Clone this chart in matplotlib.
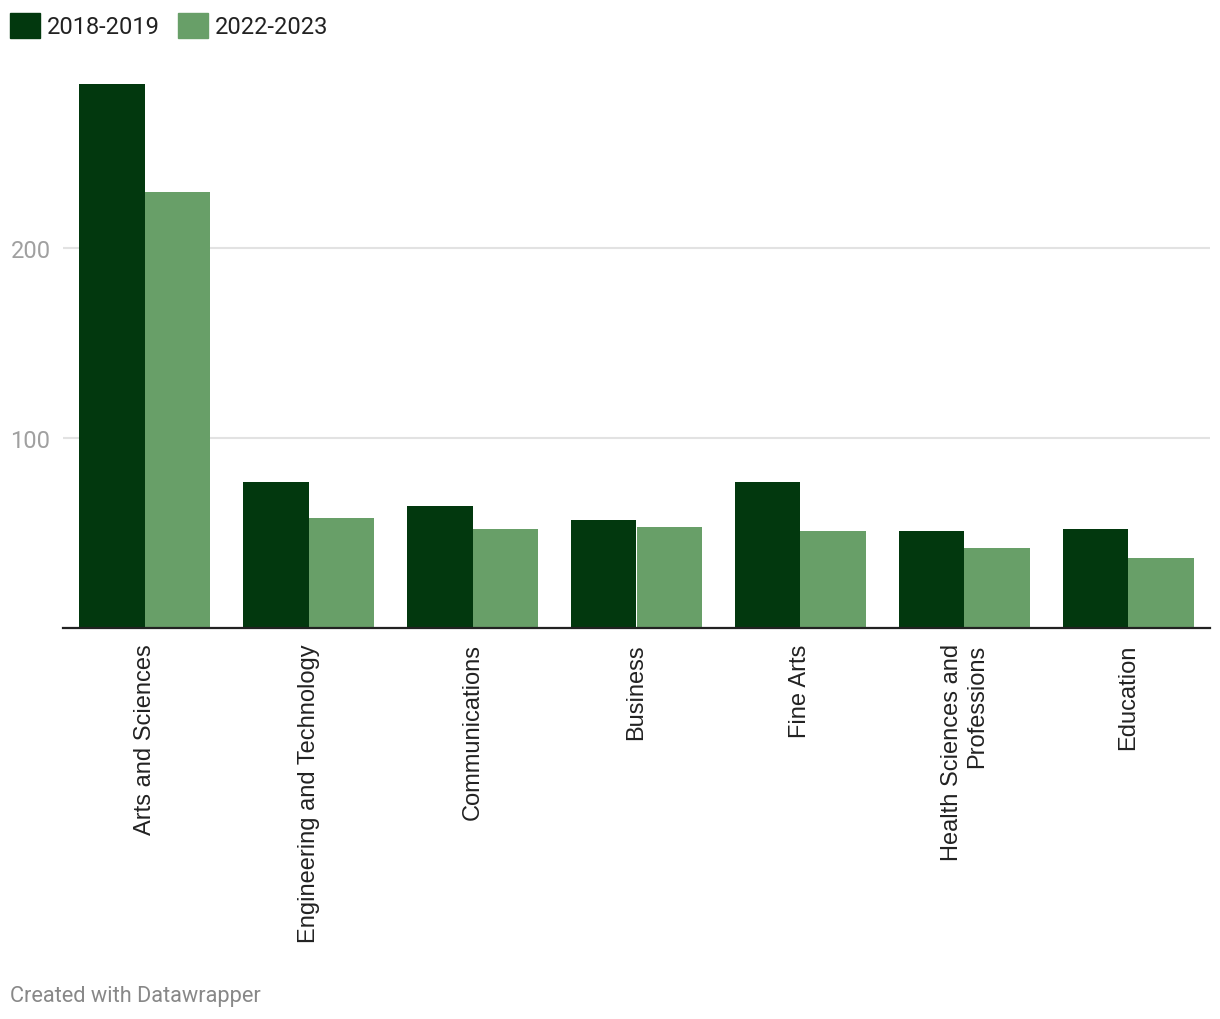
import matplotlib
matplotlib.use("Agg")
import matplotlib.pyplot as plt
import numpy as np
from matplotlib.patches import Patch

categories = [
    "Arts and Sciences",
    "Engineering and Technology",
    "Communications",
    "Business",
    "Fine Arts",
    "Health Sciences and\nProfessions",
    "Education",
]
series_names = ["2018-2019", "2022-2023"]
values_2018 = [286, 77, 64, 57, 77, 51, 52]
values_2022 = [229, 58, 52, 53, 51, 42, 37]
y_ticks = [100, 200]

DARK = "#02380e"
LIGHT = "#689f68"

plt.rcParams["font.family"] = ["Roboto", "DejaVu Sans"]

fig = plt.figure(figsize=(12.2, 10.2), dpi=100)
W, H = 1220, 1020
ax = fig.add_axes([63 / W, 1 - 629 / H, (1210 - 63) / W, (629 - 85) / H])

x = np.arange(len(categories))
bw = 0.4
ax.bar(x - bw / 2, values_2018, width=bw, color=DARK, zorder=3)
ax.bar(x + bw / 2, values_2022, width=bw, color=LIGHT, zorder=3)

ax.set_xlim(-0.5, len(categories) - 0.5)
ax.set_ylim(0, max(values_2018))

ax.set_yticks(y_ticks)
ax.set_yticklabels([str(t) for t in y_ticks])
ax.tick_params(axis="y", length=0, pad=9, labelsize=17, labelcolor="#a0a0a0")
ax.grid(axis="y", color="#e2e2e2", linewidth=1.5, zorder=0)

ax.set_xticks(x)
ax.set_xticklabels(categories, rotation=90, va="top", ha="center",
                   multialignment="right", fontsize=17,
                   family=["Liberation Sans", "DejaVu Sans"], color="#222222")
ax.tick_params(axis="x", length=0, pad=11)

for side in ["top", "right", "left"]:
    ax.spines[side].set_visible(False)
ax.spines["bottom"].set_color("#222222")
ax.spines["bottom"].set_linewidth(1.6)
ax.spines["bottom"].set_zorder(4)

handles = [Patch(color=DARK, label=series_names[0]),
           Patch(color=LIGHT, label=series_names[1])]
fig.legend(handles=handles, loc="upper left", bbox_to_anchor=(10 / W, 1 - 14 / H),
           ncol=2, frameon=False, fontsize=17, handlelength=1.25, handleheight=1.25,
           handletextpad=0.3, columnspacing=0.8, borderpad=0, borderaxespad=0,
           labelcolor="#222222")

fig.text(10 / W, 1 - 997 / H, "Created with Datawrapper", fontsize=15.7,
         color="#888888", va="center", ha="left")

fig.savefig("out.png", dpi=100, facecolor="white")
